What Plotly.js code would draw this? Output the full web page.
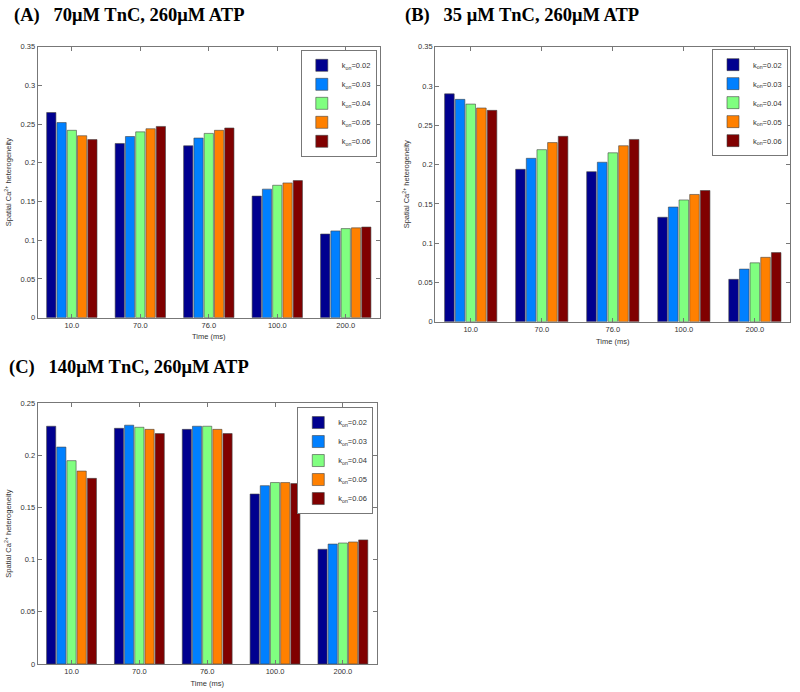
<!DOCTYPE html>
<html>
<head>
<meta charset="utf-8">
<script src="https://cdn.plot.ly/plotly-3.0.1.min.js"></script>
<style>
  body { margin: 0; background: #fff; }
  #grafico { width: 800px; height: 692px; }
</style>
</head>
<body>
<div id="grafico"></div>
<script>
// categorias del eje x (tiempo, ms)
const tiempos = ['10.0', '70.0', '76.0', '100.0', '200.0'];
const nombresKon = ['k<sub>on</sub>=0.02', 'k<sub>on</sub>=0.03', 'k<sub>on</sub>=0.04', 'k<sub>on</sub>=0.05', 'k<sub>on</sub>=0.06'];
const coloresKon = ['#00008f', '#0080ff', '#80ff80', '#ff8000', '#800000'];

// (A) 70uM TnC - una fila por valor de kon
const panelA = [
  [0.265, 0.225, 0.222, 0.157, 0.108],
  [0.252, 0.234, 0.232, 0.166, 0.112],
  [0.242, 0.240, 0.238, 0.171, 0.115],
  [0.235, 0.244, 0.242, 0.174, 0.116],
  [0.230, 0.247, 0.245, 0.177, 0.117]
];

// (B) 35uM TnC
const panelB = [
  [0.290, 0.194, 0.191, 0.133, 0.054],
  [0.283, 0.208, 0.203, 0.146, 0.067],
  [0.277, 0.219, 0.215, 0.155, 0.075],
  [0.272, 0.228, 0.224, 0.162, 0.082],
  [0.269, 0.236, 0.232, 0.167, 0.088]
];

// (C) 140uM TnC
const panelC = [
  [0.228, 0.226, 0.225, 0.163, 0.110],
  [0.208, 0.229, 0.228, 0.171, 0.115],
  [0.195, 0.227, 0.228, 0.174, 0.116],
  [0.185, 0.225, 0.225, 0.174, 0.117],
  [0.178, 0.221, 0.221, 0.173, 0.119]
];

const titulos = [
  '(A)\u00a0\u00a0 70μM TnC, 260μM ATP',
  '(B)\u00a0\u00a0 35 μM TnC, 260μM ATP',
  '(C)\u00a0\u00a0 140μM TnC, 260μM ATP'
];

function trazasPanel(valores, sufijo, leyenda) {
  return valores.map((fila, i) => ({
    type: 'bar',
    x: tiempos,
    y: fila,
    name: nombresKon[i],
    xaxis: 'x' + sufijo,
    yaxis: 'y' + sufijo,
    legend: leyenda,
    marker: { color: coloresKon[i], line: { color: '#444', width: 0.6 } },
    hoverinfo: 'x+y+name'
  }));
}

const trazas = [
  ...trazasPanel(panelA, '', 'legend'),
  ...trazasPanel(panelB, '2', 'legend2'),
  ...trazasPanel(panelC, '3', 'legend3')
];

const fuenteEje = { family: 'Liberation Sans, Arial, sans-serif', size: 7.5, color: '#333' };

function ejeX(dominio, ancla) {
  return {
    domain: dominio,
    anchor: ancla,
    type: 'category',
    range: [-0.5, 4.5],
    showline: true,
    linecolor: '#777',
    linewidth: 1,
    mirror: 'ticks',
    ticks: 'inside',
    ticklen: 4,
    tickcolor: '#777',
    tickfont: fuenteEje,
    showgrid: false,
    title: { text: 'Time (ms)', font: fuenteEje, standoff: 5 }
  };
}

function ejeY(dominio, ancla, maximo) {
  return {
    domain: dominio,
    anchor: ancla,
    range: [0, maximo],
    dtick: 0.05,
    showline: true,
    linecolor: '#777',
    linewidth: 1,
    mirror: 'ticks',
    ticks: 'inside',
    ticklen: 4,
    tickcolor: '#777',
    tickfont: fuenteEje,
    showgrid: false,
    zeroline: false,
    title: { text: 'Spatial Ca<sup>2+</sup> heterogeneity', font: fuenteEje, standoff: 7 }
  };
}

function leyenda(x, y) {
  return {
    x: x, y: y, xanchor: 'right', yanchor: 'top',
    xref: 'paper', yref: 'paper',
    bgcolor: '#fff',
    bordercolor: '#777',
    borderwidth: 1,
    font: { family: 'Liberation Sans, Arial, sans-serif', size: 7.5, color: '#333' },
    itemwidth: 30,
    traceorder: 'normal'
  };
}

const fuenteTitulo = { family: 'Liberation Serif, Times New Roman, serif', size: 18.5, color: '#000' };

const diseño = {
  width: 800,
  height: 692,
  margin: { l: 0, r: 0, t: 0, b: 0 },
  paper_bgcolor: '#fff',
  plot_bgcolor: '#fff',
  barmode: 'group',
  bargap: 0.25,
  bargroupgap: 0.1,
  showlegend: true,
  xaxis: ejeX([0.047, 0.475], 'y'),
  yaxis: ejeY([0.541, 0.9325], 'x', 0.35),
  xaxis2: ejeX([0.544, 0.988], 'y2'),
  yaxis2: ejeY([0.535, 0.9325], 'x2', 0.35),
  xaxis3: ejeX([0.047, 0.471], 'y3'),
  yaxis3: ejeY([0.0405, 0.4172], 'x3', 0.25),
  legend: leyenda(0.471, 0.928),
  legend2: leyenda(0.985, 0.929),
  legend3: leyenda(0.4666, 0.4118),
  annotations: [
    { text: '<b>' + titulos[0] + '</b>', x: 12 / 800, y: 1 - 16 / 692 },
    { text: '<b>' + titulos[1] + '</b>', x: 403 / 800, y: 1 - 16 / 692 },
    { text: '<b>' + titulos[2] + '</b>', x: 7 / 800, y: 1 - 368 / 692 }
  ].map(a => ({
    ...a, xref: 'paper', yref: 'paper', xanchor: 'left', yanchor: 'middle',
    showarrow: false, font: fuenteTitulo
  }))
};

Plotly.newPlot('grafico', trazas, diseño, { displayModeBar: false, staticPlot: true });
</script>
</body>
</html>
